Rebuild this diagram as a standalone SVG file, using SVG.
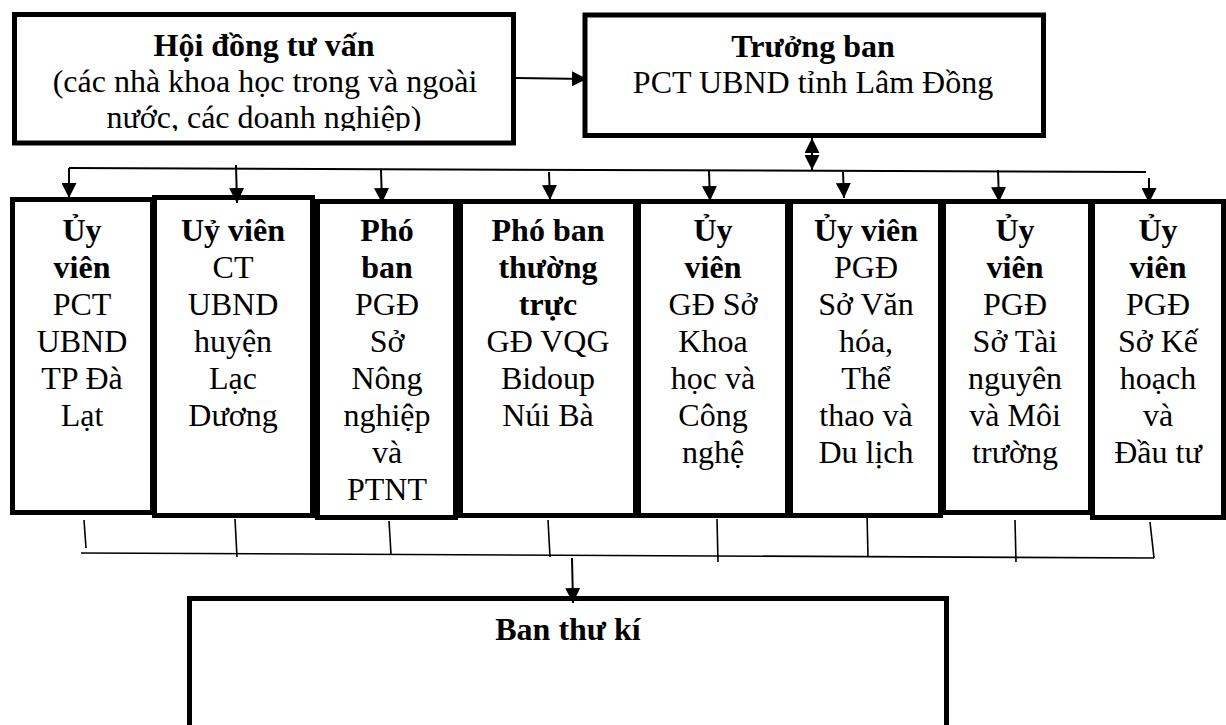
<svg xmlns="http://www.w3.org/2000/svg" width="1226" height="725" viewBox="0 0 1226 725">
<style>
.box{fill:#fff;stroke:#000;stroke-width:5}
.t{font-family:"Liberation Serif","Times New Roman",serif;font-size:32px;text-anchor:middle;fill:#000}
.b{font-weight:bold}
.ln{fill:none;stroke:#000;stroke-width:2}
.th{fill:none;stroke:#000;stroke-width:1.6}
.ar{fill:none;stroke:#000;stroke-width:2;marker-end:url(#ah)}
</style>
<defs>
<marker id="ah" viewBox="0 0 15 15" refX="15" refY="7.5" markerWidth="15" markerHeight="15" markerUnits="userSpaceOnUse" orient="auto-start-reverse">
<path d="M0,0 L15,7.5 L0,15 z" fill="#000"/>
</marker>
<clipPath id="clipH"><rect x="17" y="17" width="494" height="114"/></clipPath>
</defs>

<g id="hoi-dong">
<rect class="box" x="14.5" y="14.5" width="499" height="128.5"/>
<g clip-path="url(#clipH)">
<text class="t b" x="264" y="56">Hội đồng tư vấn</text>
<text class="t" x="265" y="92">(các nhà khoa học trong và ngoài</text>
<text class="t" x="264" y="128">nước, các doanh nghiệp)</text>
</g>
</g>

<g id="truong-ban">
<rect class="box" x="585" y="15" width="458.5" height="120.5"/>
<text class="t b" x="813" y="57">Trưởng ban</text>
<text class="t" x="813" y="93">PCT UBND tỉnh Lâm Đồng</text>
</g>

<g id="uy-vien-1">
<rect class="box" x="12.5" y="199.5" width="140" height="313"/>
<text class="t" x="82"><tspan class="b" x="82" y="241">Ủy</tspan><tspan class="b" x="82" y="278">viên</tspan><tspan x="82" y="315">PCT</tspan><tspan x="82" y="352">UBND</tspan><tspan x="82" y="389">TP Đà</tspan><tspan x="82" y="426">Lạt</tspan></text>
</g>

<g id="uy-vien-2">
<rect class="box" x="154.5" y="197.5" width="158" height="318"/>
<text class="t" x="233"><tspan class="b" x="233" y="241">Uỷ viên</tspan><tspan x="233" y="278">CT</tspan><tspan x="233" y="315">UBND</tspan><tspan x="233" y="352">huyện</tspan><tspan x="233" y="389">Lạc</tspan><tspan x="233" y="426">Dương</tspan></text>
</g>

<g id="pho-ban-1">
<rect class="box" x="317.5" y="201.5" width="138" height="316"/>
<text class="t" x="387"><tspan class="b" x="387" y="241">Phó</tspan><tspan class="b" x="387" y="278">ban</tspan><tspan x="387" y="315">PGĐ</tspan><tspan x="387" y="352">Sở</tspan><tspan x="387" y="389">Nông</tspan><tspan x="387" y="426">nghiệp</tspan><tspan x="387" y="463">và</tspan><tspan x="387" y="500">PTNT</tspan></text>
</g>

<g id="pho-ban-thuong-truc">
<rect class="box" x="460.5" y="201.5" width="175" height="314"/>
<text class="t" x="548"><tspan class="b" x="548" y="241">Phó ban</tspan><tspan class="b" x="548" y="278">thường</tspan><tspan class="b" x="548" y="315">trực</tspan><tspan x="548" y="352">GĐ VQG</tspan><tspan x="548" y="389">Bidoup</tspan><tspan x="548" y="426">Núi Bà</tspan></text>
</g>

<g id="uy-vien-5">
<rect class="box" x="638.5" y="201.5" width="149" height="314"/>
<text class="t" x="713"><tspan class="b" x="713" y="241">Ủy</tspan><tspan class="b" x="713" y="278">viên</tspan><tspan x="713" y="315">GĐ Sở</tspan><tspan x="713" y="352">Khoa</tspan><tspan x="713" y="389">học và</tspan><tspan x="713" y="426">Công</tspan><tspan x="713" y="463">nghệ</tspan></text>
</g>

<g id="uy-vien-6">
<rect class="box" x="790.5" y="201.5" width="150" height="314"/>
<text class="t" x="866"><tspan class="b" x="866" y="241">Ủy viên</tspan><tspan x="866" y="278">PGĐ</tspan><tspan x="866" y="315">Sở Văn</tspan><tspan x="866" y="352">hóa,</tspan><tspan x="866" y="389">Thể</tspan><tspan x="866" y="426">thao và</tspan><tspan x="866" y="463">Du lịch</tspan></text>
</g>

<g id="uy-vien-7">
<rect class="box" x="943.5" y="201.5" width="147" height="311"/>
<text class="t" x="1015"><tspan class="b" x="1015" y="241">Ủy</tspan><tspan class="b" x="1015" y="278">viên</tspan><tspan x="1015" y="315">PGĐ</tspan><tspan x="1015" y="352">Sở Tài</tspan><tspan x="1015" y="389">nguyên</tspan><tspan x="1015" y="426">và Môi</tspan><tspan x="1015" y="463">trường</tspan></text>
</g>

<g id="uy-vien-8">
<rect class="box" x="1092.5" y="201.5" width="131" height="316"/>
<text class="t" x="1158"><tspan class="b" x="1158" y="241">Ủy</tspan><tspan class="b" x="1158" y="278">viên</tspan><tspan x="1158" y="315">PGĐ</tspan><tspan x="1158" y="352">Sở Kế</tspan><tspan x="1158" y="389">hoạch</tspan><tspan x="1158" y="426">và</tspan><tspan x="1158" y="463">Đầu tư</tspan></text>
</g>

<g id="ban-thu-ki">
<rect class="box" x="189.5" y="598.5" width="757" height="140"/>
<text class="t b" x="568" y="640">Ban thư kí</text>
</g>

<g id="connectors">
<line class="ar" x1="516" y1="78" x2="587" y2="79"/>
<line class="ln" x1="812" y1="138" x2="812" y2="170" style="marker-start:url(#ah);marker-end:url(#ah)"/>
<line class="ln" x1="69" y1="168" x2="1146" y2="172"/>
<line class="ar" x1="69" y1="168" x2="69" y2="198"/>
<line class="ar" x1="236" y1="165" x2="237" y2="203"/>
<line class="ar" x1="381" y1="170" x2="382" y2="203"/>
<line class="ar" x1="549" y1="172" x2="550" y2="200"/>
<line class="ar" x1="709" y1="171" x2="710" y2="201"/>
<line class="ar" x1="843" y1="172" x2="844" y2="198"/>
<line class="ar" x1="998" y1="170" x2="999" y2="202"/>
<line class="ar" x1="1149" y1="178" x2="1149" y2="203"/>
<line class="th" x1="81" y1="553" x2="1154" y2="558"/>
<line class="th" x1="84" y1="520" x2="86" y2="548"/>
<line class="th" x1="235" y1="519" x2="237" y2="557"/>
<line class="th" x1="389" y1="521" x2="391" y2="554"/>
<line class="th" x1="548" y1="520" x2="550" y2="557"/>
<line class="th" x1="717" y1="519" x2="718" y2="562"/>
<line class="th" x1="867" y1="513" x2="868" y2="557"/>
<line class="th" x1="1015" y1="520" x2="1016" y2="562"/>
<line class="th" x1="1150" y1="522" x2="1154" y2="558"/>
<line class="ar" x1="572" y1="558" x2="573" y2="603"/>
</g>
</svg>
